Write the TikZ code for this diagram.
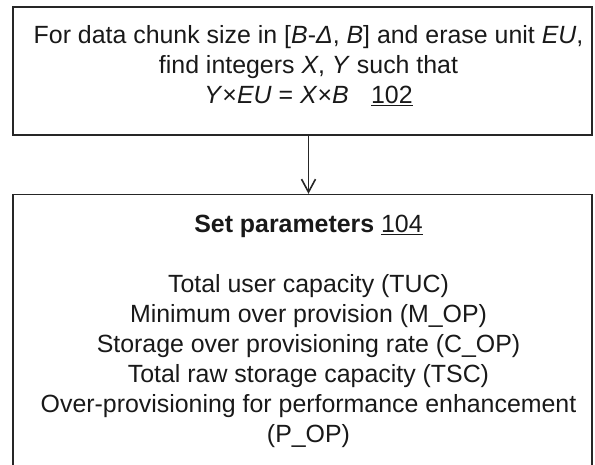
\documentclass[tikz,border=0pt]{standalone}
\usepackage{fontspec}
\setmainfont{Liberation Sans}
\usepackage{tikz}
\usetikzlibrary{arrows.meta,positioning,calc}

\begin{document}
\begin{tikzpicture}[
    x=1pt, y=1pt,
    stepbox/.style={rectangle, draw=black!85, line width=1.6pt, minimum width=579pt},
    steptext/.style={align=center, inner sep=0pt, text=black!90, font=\fontsize{24.9}{30}\selectfont},
    arrow/.style={-{Straight Barb[length=13pt,width=14pt]}, draw=black!85, line width=1.6pt}
]
\useasboundingbox (0,0) rectangle (595,-464);

% Boxes
\node[stepbox, minimum height=128pt] (findbox) at (302.5,-71) {};
\node[stepbox, minimum height=272pt, below=58pt of findbox] (setbox) {};

% Texts
\node[steptext, anchor=north] (findtext) at (308.5,-25) {For data chunk size in [\textit{B}-\textit{Δ}, \textit{B}] and erase unit \textit{EU},\\
find integers \textit{X}, \textit{Y} such that\\
\textit{Y}×\textit{EU} = \textit{X}×\textit{B}\hspace{0.9em}\underline{102}};
\node[steptext, anchor=north] (settext) at (308.5,-215) {{\bfseries Set parameters} \underline{104}\\[30pt]
Total user capacity (TUC)\\
Minimum over provision (M\_OP)\\
Storage over provisioning rate (C\_OP)\\
Total raw storage capacity (TSC)\\
Over-provisioning for performance enhancement\\
(P\_OP)};

% Connect boxes
\draw[arrow] (findtext.center |- findbox.south) -- (findtext.center |- setbox.north);

\end{tikzpicture}
\end{document}
